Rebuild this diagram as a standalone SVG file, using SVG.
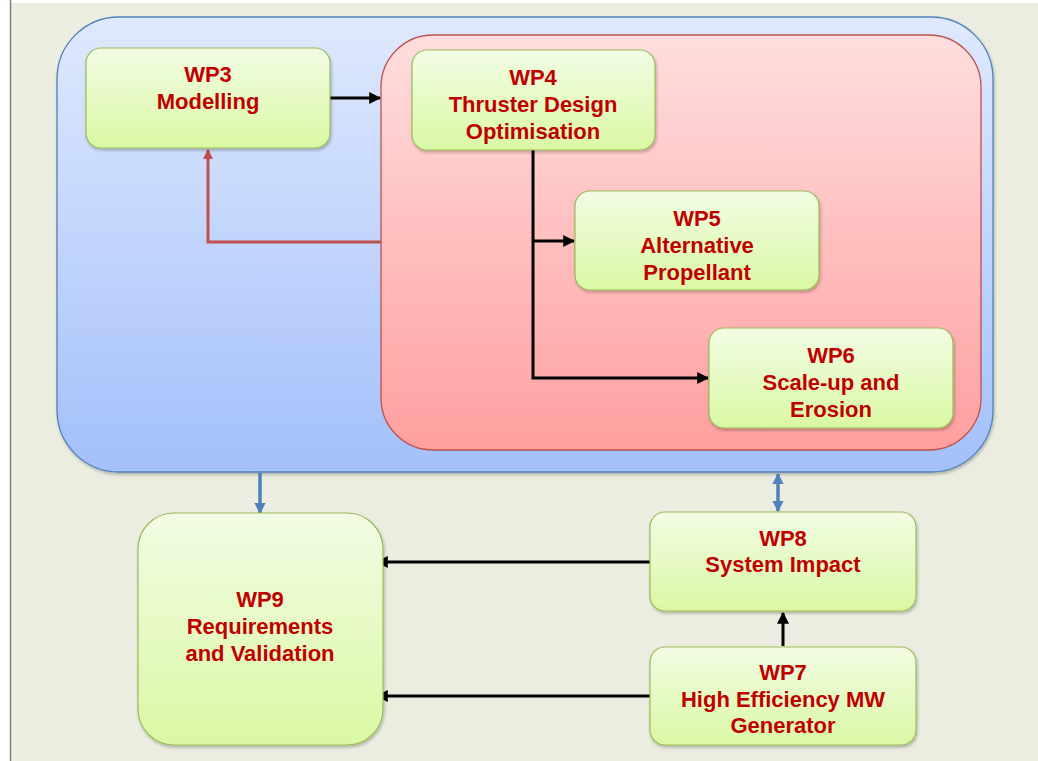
<svg xmlns="http://www.w3.org/2000/svg" width="1038" height="761" viewBox="0 0 1038 761">
<defs>
<linearGradient id="gBlue" x1="0" y1="0" x2="0" y2="1"><stop offset="0" stop-color="#DFE9FE"/><stop offset="1" stop-color="#A3C0FA"/></linearGradient>
<linearGradient id="gRed" x1="0" y1="0" x2="0" y2="1"><stop offset="0" stop-color="#FFDEDE"/><stop offset="1" stop-color="#FF9F9F"/></linearGradient>
<linearGradient id="gNode" x1="0" y1="0" x2="0" y2="1"><stop offset="0" stop-color="#F2FCE4"/><stop offset="1" stop-color="#DAF8A4"/></linearGradient>
<filter id="sh" x="-10%" y="-10%" width="120%" height="125%"><feDropShadow dx="1" dy="2" stdDeviation="1.5" flood-color="#000" flood-opacity="0.25"/></filter>
<marker id="ab" viewBox="0 0 10 10" refX="9" refY="5" markerWidth="4" markerHeight="4" orient="auto-start-reverse"><path d="M0,0 L10,5 L0,10 z" fill="#000"/></marker>
<marker id="ar" viewBox="0 0 10 10" refX="9" refY="5" markerWidth="3.5" markerHeight="4" orient="auto-start-reverse"><path d="M0,0 L10,5 L0,10 z" fill="#C0504D"/></marker>
<marker id="abl" viewBox="0 0 10 10" refX="9" refY="5" markerWidth="3.2" markerHeight="3.5" orient="auto-start-reverse"><path d="M0,0 L10,5 L0,10 z" fill="#4F81BD"/></marker>
</defs>
<style>
.node{fill:url(#gNode);stroke:#9BBB59;stroke-width:1.2;filter:url(#sh)}
.t{font-family:"Liberation Sans",Arial,sans-serif;font-weight:bold;font-size:22px;fill:#C00000;text-anchor:middle}
.cb{fill:none;stroke:#000;stroke-width:3}
.cr{fill:none;stroke:#C0504D;stroke-width:3}
.cbl{fill:none;stroke:#4F81BD;stroke-width:3.5}
</style>
<rect x="0" y="0" width="1038" height="761" fill="#FFFFFF"/>
<rect x="11" y="3" width="1027" height="758" fill="#EAEDDF"/>
<line x1="10.5" y1="0" x2="10.5" y2="761" stroke="#7F7F7F" stroke-width="1.5"/>
<g id="container-blue"><rect x="57" y="17" width="936" height="455" rx="62" ry="62" fill="url(#gBlue)" stroke="#4F81BD" stroke-width="1.3" filter="url(#sh)"/></g>
<g id="container-red"><rect x="381" y="35" width="600" height="415" rx="52" ry="52" fill="url(#gRed)" stroke="#C0504D" stroke-width="1.3"/></g>
<g id="connectors">
<path class="cb" d="M330,98 L380,98" marker-end="url(#ab)"/>
<path class="cr" d="M381,242 L208,242 L208,150" marker-end="url(#ar)"/>
<path class="cb" d="M533,150 L533,378 L708,378" marker-end="url(#ab)"/>
<path class="cb" d="M533,241 L574,241" marker-end="url(#ab)"/>
<path class="cbl" d="M260,473 L260,513" marker-end="url(#abl)"/>
<path class="cbl" d="M778,474 L778,511" marker-start="url(#abl)" marker-end="url(#abl)"/>
<path class="cb" d="M783,646 L783,613" marker-end="url(#ab)"/>
<path class="cb" d="M650,562 L377,562" marker-end="url(#ab)"/>
<path class="cb" d="M650,696 L377,696" marker-end="url(#ab)"/>
</g>
<g id="wp3"><rect class="node" x="86" y="48" width="244" height="100" rx="15"/><text class="t" x="208" y="82">WP3</text><text class="t" x="208" y="109">Modelling</text></g>
<g id="wp4"><rect class="node" x="412" y="50" width="243" height="100" rx="15"/><text class="t" x="533" y="85">WP4</text><text class="t" x="533" y="112">Thruster Design</text><text class="t" x="533" y="139">Optimisation</text></g>
<g id="wp5"><rect class="node" x="575" y="191" width="244" height="99" rx="15"/><text class="t" x="697" y="226">WP5</text><text class="t" x="697" y="253">Alternative</text><text class="t" x="697" y="280">Propellant</text></g>
<g id="wp6"><rect class="node" x="709" y="328" width="244" height="100" rx="15"/><text class="t" x="831" y="363">WP6</text><text class="t" x="831" y="390">Scale-up and</text><text class="t" x="831" y="417">Erosion</text></g>
<g id="wp9"><rect class="node" x="138" y="513" width="245" height="232" rx="36"/><text class="t" x="260" y="607">WP9</text><text class="t" x="260" y="634">Requirements</text><text class="t" x="260" y="661">and Validation</text></g>
<g id="wp8"><rect class="node" x="650" y="512" width="266" height="99" rx="15"/><text class="t" x="783" y="546">WP8</text><text class="t" x="783" y="572">System Impact</text></g>
<g id="wp7"><rect class="node" x="650" y="647" width="266" height="98" rx="15"/><text class="t" x="783" y="680">WP7</text><text class="t" x="783" y="707">High Efficiency MW</text><text class="t" x="783" y="733">Generator</text></g>
</svg>
